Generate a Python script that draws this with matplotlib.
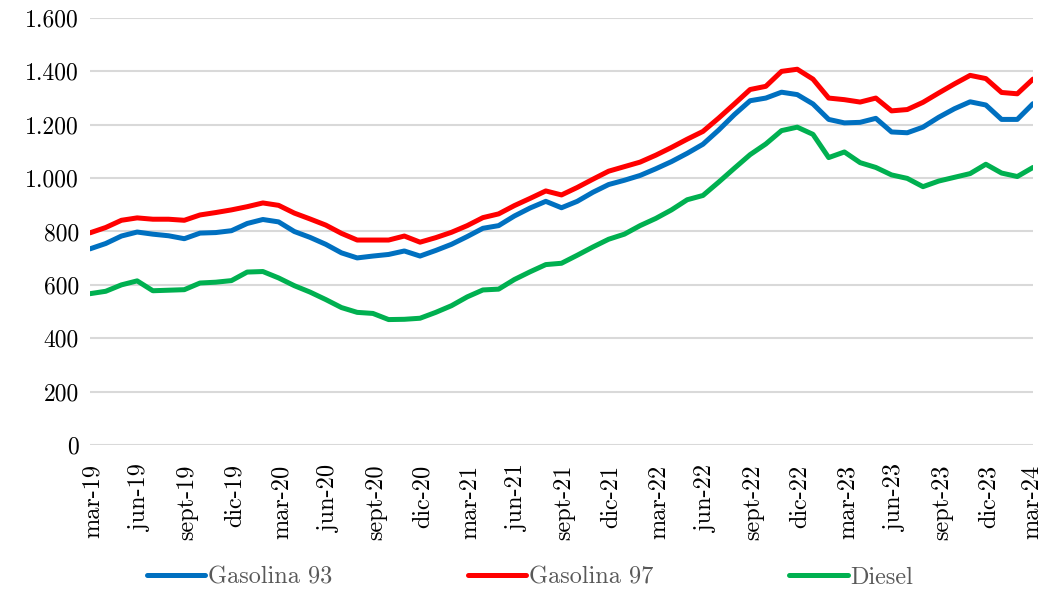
import matplotlib
matplotlib.use('Agg')
import matplotlib.pyplot as plt
import matplotlib.transforms as mtransforms

# monthly prices, mar-19 .. mar-24
gas93 = [735, 755, 783, 798, 790, 784, 773, 794, 796, 803, 830, 845, 836, 800, 778,
         752, 720, 701, 708, 714, 727, 708, 729, 752, 781, 812, 822, 858, 888, 913,
         889, 913, 947, 976, 992, 1010, 1035, 1062, 1093, 1127, 1180, 1238, 1290, 1300,
         1322, 1313, 1278, 1220, 1207, 1209, 1224, 1173, 1170, 1191, 1228, 1260, 1286,
         1274, 1220, 1220, 1279]
gas97 = [795, 815, 842, 851, 846, 846, 842, 862, 871, 881, 893, 907, 898, 869, 847,
         824, 793, 768, 768, 768, 783, 760, 777, 797, 822, 852, 866, 897, 924, 952,
         937, 965, 996, 1026, 1043, 1060, 1086, 1115, 1146, 1175, 1225, 1278, 1332, 1344,
         1400, 1408, 1371, 1300, 1294, 1285, 1300, 1252, 1257, 1284, 1319, 1353, 1385,
         1373, 1321, 1316, 1371]
diesel = [567, 576, 600, 615, 578, 580, 582, 607, 610, 616, 648, 650, 626, 597, 573,
          545, 515, 497, 493, 470, 471, 475, 497, 522, 555, 581, 584, 620, 649, 676,
          681, 711, 742, 771, 790, 822, 849, 881, 919, 935, 985, 1037, 1088, 1128,
          1178, 1191, 1164, 1077, 1098, 1058, 1040, 1012, 999, 968, 989, 1003, 1017,
          1052, 1019, 1006, 1040]
tick_labels = ['mar-19', 'jun-19', 'sept-19', 'dic-19', 'mar-20', 'jun-20', 'sept-20',
               'dic-20', 'mar-21', 'jun-21', 'sept-21', 'dic-21', 'mar-22', 'jun-22',
               'sept-22', 'dic-22', 'mar-23', 'jun-23', 'sept-23', 'dic-23', 'mar-24']
y_ticks = [0, 200, 400, 600, 800, 1000, 1200, 1400, 1600]

plt.rcParams['font.family'] = ['cmr10', 'DejaVu Serif']
plt.rcParams['font.size'] = 17

fig = plt.figure(figsize=(10.45, 5.9), dpi=100)
ax = fig.add_axes([90/1045, 1-445/590, (1033-90)/1045, (445-18)/590])

x = list(range(len(gas93)))
ax.plot(x, gas93, color='#0070C0', lw=3.6, label='Gasolina 93', solid_capstyle='round')
ax.plot(x, gas97, color='#FF0000', lw=3.6, label='Gasolina 97', solid_capstyle='round')
ax.plot(x, diesel, color='#00B050', lw=3.6, label='Diesel', solid_capstyle='round')

ax.set_xlim(0, 60)
ax.set_ylim(0, 1600)
ax.set_yticks(y_ticks)
ax.set_yticklabels([f'{v:,}'.replace(',', '.') for v in y_ticks])
ax.set_xticks(range(0, 61, 3))
ax.set_xticklabels(tick_labels, rotation=90, fontsize=17.5)
ax.tick_params(length=0, pad=8)
ax.tick_params(axis='x', pad=14)
labs = ax.get_xticklabels()
for lab in labs[:-1]:
    shift = mtransforms.ScaledTranslation(3/100, 0, fig.dpi_scale_trans)
    lab.set_transform(lab.get_transform() + shift)
# keep last label inside the figure
last_shift = mtransforms.ScaledTranslation(-1/100, 0, fig.dpi_scale_trans)
labs[-1].set_transform(labs[-1].get_transform() + last_shift)
ax.yaxis.grid(True, color='#D9D9D9', lw=1.5)
ax.set_axisbelow(True)
for s in ax.spines.values():
    s.set_visible(False)

leg = fig.legend(loc='lower center', ncol=3, bbox_to_anchor=(0.507, -0.035), frameon=False,
                 handlelength=2.4, handletextpad=0.1, columnspacing=5.6, fontsize=17.5)
for t in leg.get_texts():
    t.set_color('#595959')

fig.savefig('out.png', dpi=100)
